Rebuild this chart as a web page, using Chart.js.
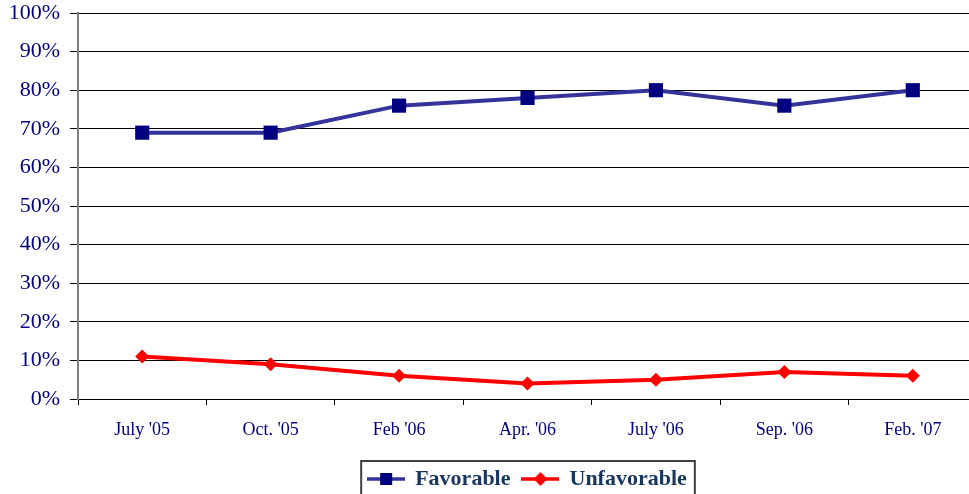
<!DOCTYPE html>
<html>
<head>
<meta charset="utf-8">
<script src="https://cdn.jsdelivr.net/npm/chart.js@4"></script>
<style>
  html, body { margin: 0; padding: 0; background: #fff; overflow: hidden; }
  #wrap { position: relative; width: 987px; height: 494px; }
</style>
</head>
<body>
<div id="wrap"><canvas id="grafico"></canvas></div>
<script>
// datos
const categorias = ["July '05", "Oct. '05", "Feb '06", "Apr. '06", "July '06", "Sep. '06", "Feb. '07"];
const favorable = [69, 69, 76, 78, 80, 76, 80];
const unfavorable = [11, 9, 6, 4, 5, 7, 6];
const nombresSeries = ['Favorable', 'Unfavorable'];
const ticksY = [0, 10, 20, 30, 40, 50, 60, 70, 80, 90, 100];

const AZUL_LINEA = '#333399';
const AZUL_MARCA = '#000080';
const ROJO = '#ff0000';
const FUENTE = "'Liberation Serif', 'Times New Roman', serif";

// icono de leyenda: linea con la marca en el medio
function iconoLeyenda(color, marca, tipo) {
  const c = document.createElement('canvas');
  c.width = 38;
  c.height = 16;
  const g = c.getContext('2d');
  g.strokeStyle = color;
  g.lineWidth = 3.5;
  g.beginPath();
  g.moveTo(0, 8);
  g.lineTo(38, 8);
  g.stroke();
  g.fillStyle = marca;
  if (tipo === 'rect') {
    g.fillRect(13, 2, 12, 12);
  } else {
    g.beginPath();
    g.moveTo(12, 8);
    g.lineTo(19, 1);
    g.lineTo(26, 8);
    g.lineTo(19, 15);
    g.closePath();
    g.fill();
  }
  return c;
}
const iconos = [iconoLeyenda(AZUL_LINEA, AZUL_MARCA, 'rect'), iconoLeyenda(ROJO, ROJO, 'diamond')];

// marco alrededor de la leyenda
const marcoLeyenda = {
  id: 'marcoLeyenda',
  afterDraw(chart) {
    const cajas = chart.legend && chart.legend.legendHitBoxes;
    if (!cajas || !cajas.length) return;
    const ult = cajas[cajas.length - 1];
    const izq = cajas[0].left - 7;
    const der = ult.left + ult.width + 8;
    const arriba = cajas[0].top - 7;
    const ctx = chart.ctx;
    ctx.save();
    ctx.strokeStyle = '#404040';
    ctx.lineWidth = 2;
    ctx.strokeRect(izq, arriba, der - izq, 60);
    ctx.restore();
  }
};

const ctx = document.getElementById('grafico').getContext('2d');
const grafico = new Chart(ctx, {
  type: 'line',
  data: {
    labels: categorias,
    datasets: [{
      label: nombresSeries[0],
      data: favorable,
      borderColor: AZUL_LINEA,
      backgroundColor: AZUL_MARCA,
      borderWidth: 4,
      pointStyle: 'rect',
      pointRadius: 10,
      pointBorderWidth: 0,
      pointBackgroundColor: AZUL_MARCA,
      tension: 0
    }, {
      label: nombresSeries[1],
      data: unfavorable,
      borderColor: ROJO,
      backgroundColor: ROJO,
      borderWidth: 4,
      pointStyle: 'rectRot',
      pointRadius: 7,
      pointBorderWidth: 0,
      pointBackgroundColor: ROJO,
      tension: 0
    }]
  },
  options: {
    responsive: true,
    maintainAspectRatio: false,
    animation: false,
    layout: { padding: { top: 13, right: 2, left: 0, bottom: -6 } },
    plugins: {
      tooltip: { enabled: false },
      legend: {
        position: 'bottom',
        fullSize: false,
        labels: {
          usePointStyle: true,
          pointStyleWidth: 36,
          padding: 12,
          color: '#17365d',
          font: { family: FUENTE, size: 22, weight: 'bold' },
          generateLabels(chart) {
            return chart.data.datasets.map((ds, i) => ({
              text: ds.label,
              pointStyle: iconos[i],
              fillStyle: ds.borderColor,
              strokeStyle: ds.borderColor,
              lineWidth: 0,
              hidden: false,
              datasetIndex: i,
              fontColor: '#17365d'
            }));
          }
        }
      }
    },
    scales: {
      x: {
        offset: true,
        afterFit(s) { s.height = 57; },
        grid: {
          offset: true,
          drawOnChartArea: false,
          drawTicks: true,
          tickLength: 6,
          color: '#000'
        },
        border: { color: '#000', width: 1 },
        ticks: {
          color: AZUL_MARCA,
          padding: 14,
          maxRotation: 0,
          font: { family: FUENTE, size: 18 }
        }
      },
      y: {
        min: 0,
        max: 100,
        afterFit(s) {
          s.width = 78;
          s.paddingTop = 0;
          s.paddingBottom = 0;
        },
        afterBuildTicks(s) { s.ticks = ticksY.map(v => ({ value: v })); },
        grid: {
          color: '#000',
          lineWidth: 1,
          drawTicks: true,
          tickLength: 8
        },
        border: { color: '#808080', width: 2 },
        ticks: {
          color: AZUL_MARCA,
          padding: 10,
          font: { family: FUENTE, size: 22 },
          callback: v => v + '%'
        }
      }
    }
  },
  plugins: [marcoLeyenda]
});
</script>
</body>
</html>
